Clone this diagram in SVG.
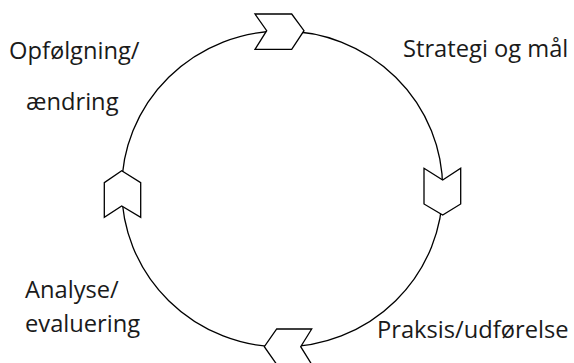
<svg xmlns="http://www.w3.org/2000/svg" width="574" height="363" viewBox="0 0 574 363">
<style>
.ln{fill:none;stroke:#000;stroke-width:1.3}
.ch{fill:#fff;stroke:#000;stroke-width:1.3;stroke-linejoin:miter}
.t{font-family:"Open Sans","Noto Sans",sans-serif;font-size:23.7px;fill:#1a1a1a}
</style>
<rect width="574" height="363" fill="#fff"/>
<g id="connectors">
<ellipse class="ln" cx="282.2" cy="189" rx="160.5" ry="158"/>
</g>
<g id="chevron-top">
<polygon class="ch" points="255,14 291.7,14 304,30.7 291.7,49.3 255,49.3 266.7,30.7"/>
</g>
<g id="chevron-right">
<polygon class="ch" points="424,168.3 442.7,180 460.7,168.3 460.7,204 442.7,215 424,204"/>
</g>
<g id="chevron-bottom">
<polygon class="ch" points="276.7,329 311.7,329 300.7,346.7 311.7,364.4 276.7,364.4 264.3,346.7"/>
</g>
<g id="chevron-left">
<polygon class="ch" points="121.7,170.7 140.7,182.7 140.7,217.3 121.7,206 104.3,217.3 104.3,182.7"/>
</g>
<g id="label-strategi"><text class="t" x="403" y="57">Strategi og mål</text></g>
<g id="label-praksis"><text class="t" x="377" y="338">Praksis/udførelse</text></g>
<g id="label-analyse"><text class="t" x="25" y="298">Analyse/</text><text class="t" x="25" y="332">evaluering</text></g>
<g id="label-opfolgning"><text class="t" x="9" y="59">Opfølgning/</text><text class="t" x="26" y="110">ændring</text></g>
</svg>
